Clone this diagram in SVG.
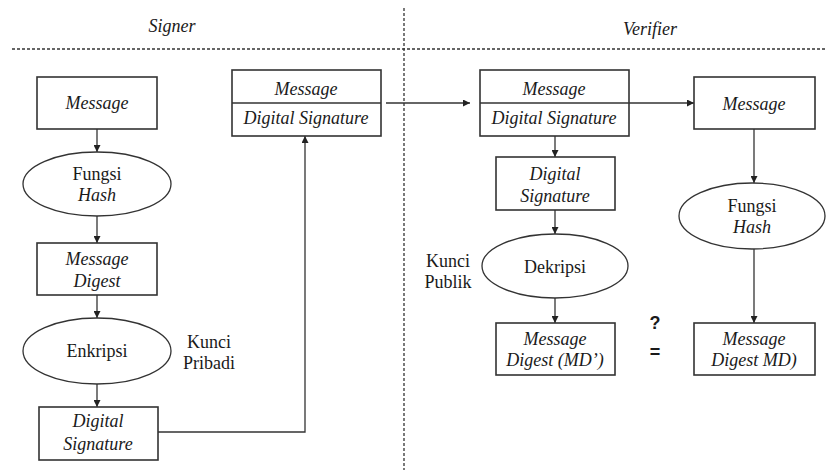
<svg xmlns="http://www.w3.org/2000/svg" width="826" height="470" viewBox="0 0 826 470">
<defs>
<marker id="ah" viewBox="0 0 10 10" refX="10" refY="5" markerWidth="7" markerHeight="7" markerUnits="userSpaceOnUse" orient="auto">
<path d="M0,0 L10,5 L0,10 z" fill="#222"/>
</marker>
</defs>
<style>
.box{fill:#fff;stroke:#333;stroke-width:1.6}
.ell{fill:#fff;stroke:#333;stroke-width:1.3}
.t{font-family:'Liberation Serif','Times New Roman',serif;font-size:18px;fill:#1a1a1a;text-anchor:middle}
.i{font-style:italic}
.s{font-family:'Liberation Sans',Arial,sans-serif;font-size:18px;fill:#1a1a1a;text-anchor:middle;font-weight:bold}
.c{fill:none;stroke:#333;stroke-width:1.3}
.d{fill:none;stroke:#333;stroke-width:1.3;stroke-dasharray:3 2}
</style>
<rect width="826" height="470" fill="#fff"/>
<g id="dividers">
<line class="d" x1="12" y1="49" x2="826" y2="49"/>
<line class="d" x1="404" y1="8" x2="404" y2="470"/>
</g>
<g id="headers">
<text class="t i" x="172" y="32">Signer</text>
<text class="t i" x="650" y="35">Verifier</text>
</g>
<g id="connectors">
<line class="c" x1="97" y1="129" x2="97" y2="152" marker-end="url(#ah)"/>
<line class="c" x1="97" y1="216" x2="97" y2="243" marker-end="url(#ah)"/>
<line class="c" x1="97" y1="295" x2="97" y2="318" marker-end="url(#ah)"/>
<line class="c" x1="97" y1="384" x2="97" y2="407" marker-end="url(#ah)"/>
<polyline class="c" points="158,432 305,432 305,136" marker-end="url(#ah)"/>
<line class="c" x1="386" y1="103" x2="470" y2="103" marker-end="url(#ah)"/>
<line class="c" x1="629" y1="103" x2="694" y2="103" marker-end="url(#ah)"/>
<line class="c" x1="555" y1="136" x2="555" y2="157" marker-end="url(#ah)"/>
<line class="c" x1="555" y1="210" x2="555" y2="234" marker-end="url(#ah)"/>
<line class="c" x1="555" y1="298" x2="555" y2="323" marker-end="url(#ah)"/>
<line class="c" x1="754" y1="129" x2="754" y2="183" marker-end="url(#ah)"/>
<line class="c" x1="754" y1="249" x2="754" y2="323" marker-end="url(#ah)"/>
</g>
<g id="s-message">
<rect class="box" x="37" y="77" width="120" height="52"/>
<text class="t i" x="97" y="109">Message</text>
</g>
<g id="s-hash">
<ellipse class="ell" cx="97" cy="184" rx="74" ry="32"/>
<text class="t" x="97" y="180">Fungsi</text>
<text class="t i" x="97" y="201">Hash</text>
</g>
<g id="s-digest">
<rect class="box" x="37" y="243" width="120" height="52"/>
<text class="t i" x="97" y="265">Message</text>
<text class="t i" x="97" y="287">Digest</text>
</g>
<g id="s-enkripsi">
<ellipse class="ell" cx="97" cy="351" rx="74" ry="33"/>
<text class="t" x="97" y="357">Enkripsi</text>
</g>
<g id="s-kunci">
<text class="t" x="209" y="348">Kunci</text>
<text class="t" x="209" y="369">Pribadi</text>
</g>
<g id="s-signature">
<rect class="box" x="39" y="407" width="119" height="53"/>
<text class="t i" x="98" y="427">Digital</text>
<text class="t i" x="98" y="450">Signature</text>
</g>
<g id="s-bundle">
<rect class="box" x="232" y="70" width="149" height="66"/>
<line class="c" x1="232" y1="103" x2="381" y2="103"/>
<text class="t i" x="306" y="95">Message</text>
<text class="t i" x="306" y="124">Digital Signature</text>
</g>
<g id="v-bundle">
<rect class="box" x="480" y="70" width="149" height="66"/>
<line class="c" x1="480" y1="103" x2="629" y2="103"/>
<text class="t i" x="554" y="95">Message</text>
<text class="t i" x="554" y="124">Digital Signature</text>
</g>
<g id="v-message">
<rect class="box" x="694" y="77" width="121" height="52"/>
<text class="t i" x="754" y="110">Message</text>
</g>
<g id="v-signature">
<rect class="box" x="496" y="157" width="119" height="53"/>
<text class="t i" x="555" y="180">Digital</text>
<text class="t i" x="555" y="202">Signature</text>
</g>
<g id="v-hash">
<ellipse class="ell" cx="752" cy="216" rx="73" ry="33"/>
<text class="t" x="752" y="212">Fungsi</text>
<text class="t i" x="752" y="233">Hash</text>
</g>
<g id="v-dekripsi">
<ellipse class="ell" cx="555" cy="266" rx="73" ry="32"/>
<text class="t" x="555" y="273">Dekripsi</text>
</g>
<g id="v-kunci">
<text class="t" x="448" y="267">Kunci</text>
<text class="t" x="448" y="288">Publik</text>
</g>
<g id="v-md1">
<rect class="box" x="496" y="323" width="119" height="52"/>
<text class="t i" x="555" y="345">Message</text>
<text class="t i" x="555" y="366">Digest (MD’)</text>
</g>
<g id="v-compare">
<text class="s" x="655" y="329">?</text>
<text class="s" x="655" y="358">=</text>
</g>
<g id="v-md2">
<rect class="box" x="694" y="323" width="121" height="52"/>
<text class="t i" x="754" y="345">Message</text>
<text class="t i" x="754" y="366">Digest MD)</text>
</g>
</svg>
